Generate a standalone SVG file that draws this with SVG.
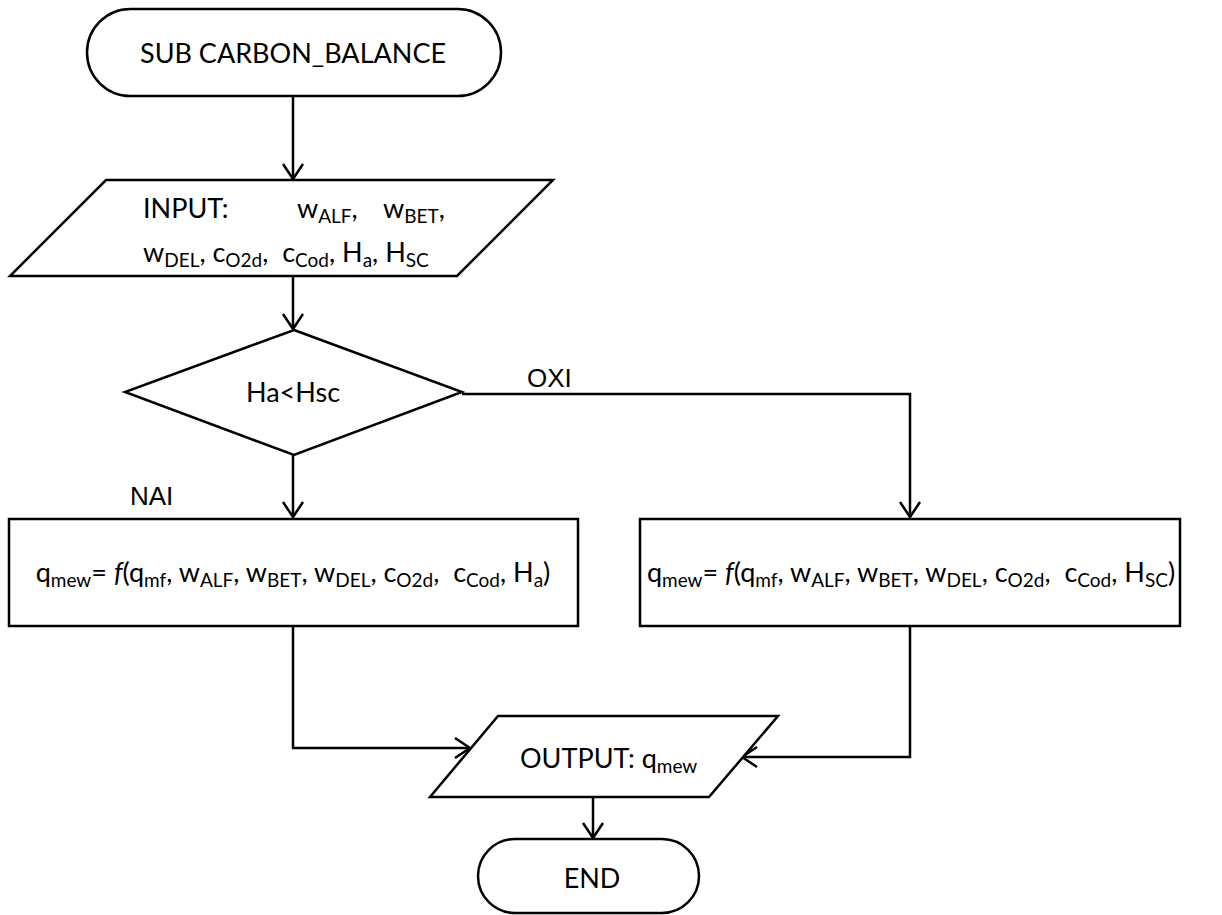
<svg xmlns="http://www.w3.org/2000/svg" width="1222" height="915" viewBox="0 0 1222 915">
  <defs>
    <marker id="arrow" markerUnits="userSpaceOnUse" markerWidth="24" markerHeight="24" viewBox="-16 -12 20 24" refX="0" refY="0" orient="auto">
      <path d="M-15,-10 L0,0 L-15,10" fill="none" stroke="#000" stroke-width="2.5"/>
    </marker>
  </defs>
  <style>
    .shape { fill: #fff; stroke: #000; stroke-width: 2.5; }
    .line { fill: none; stroke: #000; stroke-width: 2.5; }
    text { font-family: Lato, "Liberation Sans", sans-serif; font-size: 27px; fill: #000; white-space: pre; }
    .sub { font-size: 19px; }
    .lbl { font-family: "Liberation Sans", Arial, sans-serif; font-size: 26px; }
  </style>
  <rect width="1222" height="915" fill="#fff"/>

  <!-- connectors -->
  <g id="connectors">
    <line class="line" x1="293" y1="96" x2="293" y2="179" marker-end="url(#arrow)"/>
    <line class="line" x1="293" y1="276" x2="293" y2="329" marker-end="url(#arrow)"/>
    <line class="line" x1="293" y1="455" x2="293" y2="517" marker-end="url(#arrow)"/>
    <polyline class="line" points="462,394 910,394 910,517" marker-end="url(#arrow)"/>
    <polyline class="line" points="293,626 293,748 470,748" marker-end="url(#arrow)"/>
    <polyline class="line" points="910,626 910,757 742,757" marker-end="url(#arrow)"/>
    <line class="line" x1="593" y1="797" x2="593" y2="838" marker-end="url(#arrow)"/>
    <text class="lbl" x="527" y="387">OXI</text>
    <text class="lbl" x="130" y="505">NAI</text>
  </g>

  <!-- start terminator -->
  <g id="start">
    <rect class="shape" x="87" y="9" width="414" height="87" rx="43.5" ry="43.5"/>
    <text x="293" y="63" text-anchor="middle">SUB CARBON_BALANCE</text>
  </g>

  <!-- input -->
  <g id="input">
    <polygon class="shape" points="106,180 553,180 457,276 10,276"/>
    <text x="143" y="218">INPUT:</text>
    <text x="297" y="218">w<tspan class="sub" dy="5">ALF</tspan><tspan dy="-5">,</tspan></text>
    <text x="383" y="218">w<tspan class="sub" dy="5">BET</tspan><tspan dy="-5">,</tspan></text>
    <text x="143" y="262">w<tspan class="sub" dy="5">DEL</tspan><tspan dy="-5">, c</tspan><tspan class="sub" dy="5">O2d</tspan><tspan dy="-5">,  c</tspan><tspan class="sub" dy="5">Cod</tspan><tspan dy="-5">, H</tspan><tspan class="sub" dy="5">a</tspan><tspan dy="-5">, H</tspan><tspan class="sub" dy="5">SC</tspan></text>
  </g>

  <!-- decision -->
  <g id="decision">
    <polygon class="shape" points="294,330 462,392 294,455 125,392"/>
    <text x="293" y="402" text-anchor="middle">Ha&lt;Hsc</text>
  </g>

  <!-- NAI branch -->
  <g id="calc-nai">
    <rect class="shape" x="9" y="519" width="569" height="107"/>
    <text x="293" y="582" text-anchor="middle">q<tspan class="sub" dy="5">mew</tspan><tspan dy="-5">= </tspan><tspan font-style="italic">f</tspan>(q<tspan class="sub" dy="5">mf</tspan><tspan dy="-5">, w</tspan><tspan class="sub" dy="5">ALF</tspan><tspan dy="-5">, w</tspan><tspan class="sub" dy="5">BET</tspan><tspan dy="-5">, w</tspan><tspan class="sub" dy="5">DEL</tspan><tspan dy="-5">, c</tspan><tspan class="sub" dy="5">O2d</tspan><tspan dy="-5">,  c</tspan><tspan class="sub" dy="5">Cod</tspan><tspan dy="-5">, H</tspan><tspan class="sub" dy="5">a</tspan><tspan dy="-5">)</tspan></text>
  </g>

  <!-- OXI branch -->
  <g id="calc-oxi">
    <rect class="shape" x="640" y="519" width="540" height="107"/>
    <text x="911" y="582" text-anchor="middle">q<tspan class="sub" dy="5">mew</tspan><tspan dy="-5">= </tspan><tspan font-style="italic">f</tspan>(q<tspan class="sub" dy="5">mf</tspan><tspan dy="-5">, w</tspan><tspan class="sub" dy="5">ALF</tspan><tspan dy="-5">, w</tspan><tspan class="sub" dy="5">BET</tspan><tspan dy="-5">, w</tspan><tspan class="sub" dy="5">DEL</tspan><tspan dy="-5">, c</tspan><tspan class="sub" dy="5">O2d</tspan><tspan dy="-5">,  c</tspan><tspan class="sub" dy="5">Cod</tspan><tspan dy="-5">, H</tspan><tspan class="sub" dy="5">SC</tspan><tspan dy="-5">)</tspan></text>
  </g>

  <!-- output -->
  <g id="output">
    <polygon class="shape" points="498,716 778,716 709,797 430,797"/>
    <text x="520" y="768">OUTPUT: q<tspan class="sub" dy="5">mew</tspan></text>
  </g>

  <!-- end terminator -->
  <g id="end">
    <rect class="shape" x="478" y="839" width="221" height="74" rx="37" ry="37"/>
    <text x="592" y="888" text-anchor="middle">END</text>
  </g>
</svg>
